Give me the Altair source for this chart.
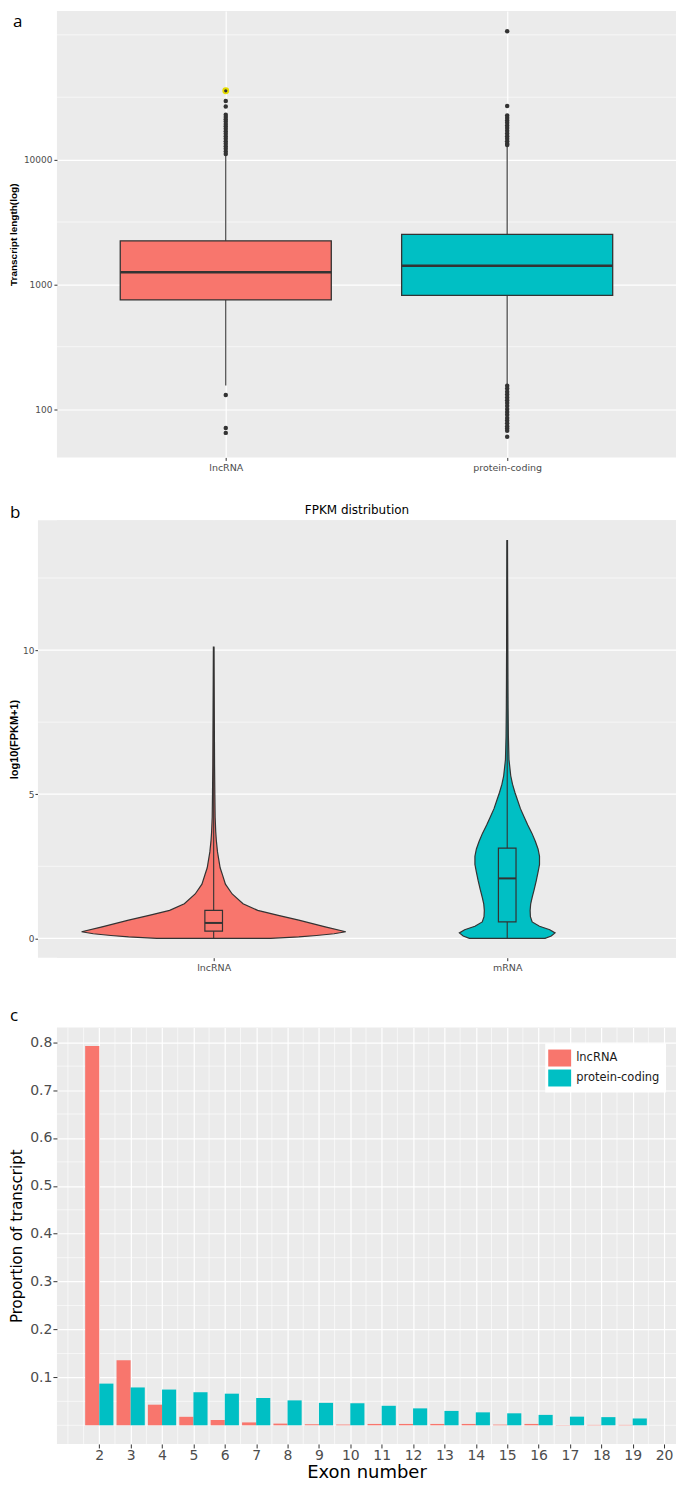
import json
import altair as alt
import pandas as pd

# ---------------- data ----------------
panel_letters = ["a", "b", "c"]
fill_colors = ["#F8766D", "#00BFC4"]

# (a) transcript length box plot, log scale
len_types = ["lncRNA", "protein-coding"]
len_q1 = [751, 815]
len_median = [1250, 1411]
len_q3 = [2235, 2518]
len_whisker_low = [155, 156]
len_whisker_high = [10900, 12900]
len_outliers_lnc = [35600, 29500, 26600, 22900, 22000, 21100, 20200, 19300, 18500, 17700,
                    16900, 16100, 15400, 14700, 14000, 13400, 12800, 12200, 11600, 11100,
                    130, 70.5, 64.5]
len_outliers_pc = [107000, 26900, 22600, 21600, 20600, 19700, 18800, 17900, 17000, 16200,
                   15400, 14700, 14000, 13400, 13100,
                   154, 146, 138, 131, 124, 118, 112, 106, 100, 95, 90, 85, 81, 77, 73, 70, 67, 60]
len_highlight = [35600]
len_ticks = [100, 1000, 10000]
len_minor = [316.2, 3162, 31623, 100000]
len_domain = [41, 155000]

# (b) FPKM violin plot
fpkm_title = "FPKM distribution"
fpkm_types = ["lncRNA", "mRNA"]
lnc_violin_v = [0, 0.05, 0.1, 0.16, 0.23, 0.4, 0.63, 0.8, 0.97, 1.2, 1.54, 1.88, 2.2, 2.45,
                3.0, 3.4, 3.7, 4.2, 5.0, 6.0, 7.0, 8.0, 9.0, 10.1]
lnc_violin_hw = [0.194, 0.29, 0.35, 0.41, 0.45, 0.38, 0.29, 0.22, 0.15, 0.10, 0.063, 0.040,
                 0.030, 0.022, 0.013, 0.009, 0.007, 0.005, 0.004, 0.003, 0.0025, 0.002,
                 0.0015, 0.001]
mrna_violin_v = [0, 0.08, 0.19, 0.3, 0.42, 0.57, 0.75, 0.97, 1.2, 1.42, 1.7, 2.0, 2.3, 2.56,
                 2.85, 3.1, 3.36, 3.65, 3.93, 4.2, 4.5, 4.8, 5.07, 5.35, 5.64, 6.2, 7.0, 8.0,
                 9.0, 10.5, 12.0, 13.8]
mrna_violin_hw = [0.129, 0.15, 0.163, 0.145, 0.11, 0.085, 0.079, 0.078, 0.08, 0.085, 0.092,
                  0.099, 0.105, 0.11, 0.11, 0.105, 0.096, 0.084, 0.07, 0.058, 0.045, 0.035,
                  0.026, 0.018, 0.012, 0.006, 0.004, 0.003, 0.0025, 0.002, 0.0015, 0.001]
fpkm_q1 = [0.25, 0.57]
fpkm_median = [0.535, 2.08]
fpkm_q3 = [0.97, 3.13]
fpkm_min = [0, 0]
fpkm_max = [10.1, 13.8]
fpkm_ticks = [0, 5, 10]
fpkm_minor = [2.5, 7.5, 12.5]
fpkm_domain = [-0.67, 14.5]
fpkm_x_domain = [0.466, 2.575]

# (c) exon number distribution
exon_types = ["lncRNA", "protein-coding"]
exon_numbers = [2, 3, 4, 5, 6, 7, 8, 9, 10, 11, 12, 13, 14, 15, 16, 17, 18, 19]
lnc_prop = [0.792, 0.1356, 0.043, 0.0177, 0.011, 0.006, 0.0035, 0.002, 0.0015, 0.0028,
            0.0028, 0.0028, 0.0028, 0.0014, 0.0028, 0.0008, 0.0008, 0.0008]
pc_prop = [0.087, 0.079, 0.0746, 0.069, 0.066, 0.057, 0.052, 0.0468, 0.046, 0.0407,
           0.0353, 0.030, 0.027, 0.025, 0.0217, 0.018, 0.017, 0.0142]
exon_ticks = [2, 3, 4, 5, 6, 7, 8, 9, 10, 11, 12, 13, 14, 15, 16, 17, 18, 19, 20]
exon_minor_x = [1, 1.5, 2.5, 3.5, 4.5, 5.5, 6.5, 7.5, 8.5, 9.5, 10.5, 11.5, 12.5, 13.5,
                14.5, 15.5, 16.5, 17.5, 18.5, 19.5]
prop_ticks = [0.1, 0.2, 0.3, 0.4, 0.5, 0.6, 0.7, 0.8]
prop_minor = [0, 0.05, 0.15, 0.25, 0.35, 0.45, 0.55, 0.65, 0.75]
exon_x_domain = [0.65, 20.38]
prop_domain = [-0.039, 0.8305]

# ---------------- styles ----------------
FAB = "Liberation Sans"
FD = "DejaVu Sans"
FC = "Open Sans"
DARK = "#333333"
PANEL_BG = "#EBEBEB"
GRID_MAJOR = 1.2
GRID_MINOR = 0.6
W = 620          # plot width shared by the three panels
B_SHIFT = 19     # panel b's grey area starts further left than a and c
HA, HB, HC = 447, 438, 417

# =============== panel a ===============
pos_a = [i + 1 for i in range(len(len_types))]
box_df = pd.DataFrame({"ta": len_types, "pos": pos_a, "q1": len_q1, "med": len_median,
                       "q3": len_q3, "lo": len_whisker_low, "hi": len_whisker_high})
out_rows = []
for t, vals in zip(len_types, [len_outliers_lnc, len_outliers_pc]):
    for v in vals:
        out_rows.append({"ta": t, "pos": pos_a[len_types.index(t)], "v": v})
out_df = pd.DataFrame(out_rows)
hl_df = pd.DataFrame({"ta": [len_types[0]] * len(len_highlight),
                      "pos": [pos_a[0]] * len(len_highlight), "v": len_highlight})

xa_scale = alt.Scale(domain=[0.4, 2.6], nice=False, zero=False)
xa_axis = alt.Axis(values=pos_a, labelExpr=f"{json.dumps(len_types)}[datum.value - 1]",
                   grid=True, gridColor="white", gridWidth=GRID_MAJOR, labelFontSize=9.5,
                   labelFont=FD, tickSize=3, labelPadding=2)
ya_scale = alt.Scale(type="log", domain=len_domain, nice=False)
ya_axis = alt.Axis(values=len_ticks, format="d", grid=True, gridColor="white",
                   gridWidth=GRID_MAJOR, labelFontSize=9, labelFont=FD, titleFontSize=10,
                   titleFont=FAB, titleFontWeight="bold", minExtent=33, maxExtent=33,
                   titlePadding=5, tickSize=3, labelPadding=2)
A_YT = "Transcript length(log)"


def xa(f):
    return alt.X(f, type="quantitative", scale=xa_scale, axis=xa_axis, title=None)


def ya(f):
    return alt.Y(f, type="quantitative", scale=ya_scale, axis=ya_axis, title=A_YT)


a_minor = alt.Chart(pd.DataFrame({"yv": len_minor})).mark_rule(
    color="white", strokeWidth=GRID_MINOR).encode(y=ya("yv"))
a_whisk = alt.Chart(box_df).mark_rule(color=DARK, strokeWidth=1.1).encode(
    x=xa("pos"), y=ya("lo"), y2="hi")
a_box = alt.Chart(box_df).transform_calculate(
    xl="datum.pos - 0.375", xr="datum.pos + 0.375").mark_bar(
    stroke=DARK, strokeWidth=1.3, opacity=1).encode(
    x=xa("xl"), x2="xr", y=ya("q1"), y2="q3",
    color=alt.Color("ta:N", scale=alt.Scale(domain=len_types, range=fill_colors), legend=None))
a_med = alt.Chart(box_df).transform_calculate(
    xl="datum.pos - 0.375", xr="datum.pos + 0.375").mark_rule(
    color=DARK, strokeWidth=2.6).encode(x=xa("xl"), x2="xr", y=ya("med"))
a_out = alt.Chart(out_df).mark_circle(size=20, color=DARK, opacity=1).encode(
    x=xa("pos"), y=ya("v"))
a_hl = alt.Chart(hl_df).mark_circle(size=26, color=DARK, opacity=1, stroke="#E6DC00",
                                    strokeWidth=1.8).encode(x=xa("pos"), y=ya("v"))
a_letter = alt.Chart(pd.DataFrame({"t": [panel_letters[0]]})).mark_text(
    font=FC, fontSize=17, align="left", baseline="alphabetic", color="black").encode(
    x=alt.value(-44), y=alt.value(16), text="t:N")

panel_a = alt.layer(a_minor, a_whisk, a_box, a_med, a_out, a_hl, a_letter).properties(
    width=W, height=HA)

# =============== panel b ===============
pos_b = [i + 1 for i in range(len(fpkm_types))]
vio_rows = []
for t, vs, hws in zip(fpkm_types, [lnc_violin_v, mrna_violin_v], [lnc_violin_hw, mrna_violin_hw]):
    for v, hw in zip(vs, hws):
        vio_rows.append({"tb": t, "pos": pos_b[fpkm_types.index(t)], "v": v, "hw": hw})
vio_df = pd.DataFrame(vio_rows)
fbox_df = pd.DataFrame({"tb": fpkm_types, "pos": pos_b, "q1": fpkm_q1, "med": fpkm_median,
                        "q3": fpkm_q3, "lo": fpkm_min, "hi": fpkm_max})

xb_scale = alt.Scale(domain=fpkm_x_domain, nice=False, zero=False)
xb_axis = alt.Axis(values=pos_b, labelExpr=f"{json.dumps(fpkm_types)}[datum.value - 1]",
                   grid=True, gridColor="white", gridWidth=GRID_MAJOR, labelFontSize=9.5,
                   labelFont=FD, tickSize=3, labelPadding=2, minExtent=17)
yb_scale = alt.Scale(domain=fpkm_domain, nice=False, zero=False)
yb_axis = alt.Axis(values=fpkm_ticks, format="d", grid=False, labelFontSize=9, labelFont=FD,
                   titleFontSize=11, titleFont=FAB, titleFontWeight="bold", minExtent=15,
                   maxExtent=15, titlePadding=3, tickSize=3, labelPadding=1, offset=B_SHIFT)
B_YT = "log10(FPKM+1)"


def xb(f):
    return alt.X(f, type="quantitative", scale=xb_scale, axis=xb_axis, title=None)


def yb(f):
    return alt.Y(f, type="quantitative", scale=yb_scale, axis=yb_axis, title=B_YT)


b_color = alt.Color("tb:N", scale=alt.Scale(domain=fpkm_types, range=fill_colors), legend=None)
b_bg = alt.Chart(pd.DataFrame({"t": [fpkm_title]})).mark_rect(color=PANEL_BG).encode(
    x=alt.value(-B_SHIFT), x2=alt.value(W), y=alt.value(0), y2=alt.value(HB))
b_major = alt.Chart(pd.DataFrame({"yv": fpkm_ticks})).mark_rule(
    color="white", strokeWidth=GRID_MAJOR).encode(
    y=yb("yv"), x=alt.value(-B_SHIFT), x2=alt.value(W))
b_minor = alt.Chart(pd.DataFrame({"yv": fpkm_minor})).mark_rule(
    color="white", strokeWidth=GRID_MINOR).encode(
    y=yb("yv"), x=alt.value(-B_SHIFT), x2=alt.value(W))
b_violin = alt.Chart(vio_df).transform_calculate(
    xl="datum.pos - datum.hw", xr="datum.pos + datum.hw").mark_area(
    orient="horizontal", stroke=DARK, strokeWidth=1.2, opacity=1).encode(
    y=yb("v"), x=xb("xl"), x2="xr", color=b_color)
b_whisk = alt.Chart(fbox_df).mark_rule(color=DARK, strokeWidth=1.1).encode(
    x=xb("pos"), y=yb("lo"), y2="hi")
b_box = alt.Chart(fbox_df).transform_calculate(
    xl="datum.pos - 0.03", xr="datum.pos + 0.03").mark_bar(
    stroke=DARK, strokeWidth=1.2, opacity=1).encode(
    x=xb("xl"), x2="xr", y=yb("q1"), y2="q3", color=b_color)
b_med = alt.Chart(fbox_df).transform_calculate(
    xl="datum.pos - 0.03", xr="datum.pos + 0.03").mark_rule(
    color=DARK, strokeWidth=2).encode(x=xb("xl"), x2="xr", y=yb("med"))
b_letter = alt.Chart(pd.DataFrame({"t": [panel_letters[1]]})).mark_text(
    font=FC, fontSize=17, align="left", baseline="alphabetic", color="black").encode(
    x=alt.value(-47), y=alt.value(-2), text="t:N")
b_title = alt.Chart(pd.DataFrame({"t": [fpkm_title]})).mark_text(
    font=FD, fontSize=12, align="center", baseline="alphabetic", color="black").encode(
    x=alt.value((W - B_SHIFT) / 2), y=alt.value(-6), text="t:N")

panel_b = alt.layer(b_bg, b_major, b_minor, b_violin, b_whisk, b_box, b_med, b_letter,
                    b_title).properties(width=W, height=HB)

# =============== panel c ===============
bar_rows = []
for side, (t, props) in enumerate(zip(exon_types, [lnc_prop, pc_prop])):
    for e, p in zip(exon_numbers, props):
        bar_rows.append({"tc": t, "side": side, "exon": e, "prop": p})
bar_df = pd.DataFrame(bar_rows)

xc_scale = alt.Scale(domain=exon_x_domain, nice=False, zero=False)
xc_axis = alt.Axis(values=exon_ticks, format="d", grid=True, gridColor="white",
                   gridWidth=GRID_MAJOR, labelFontSize=14, labelFont=FD, tickSize=4,
                   labelPadding=1, titleFontSize=18, titleFont=FD, titleFontWeight="normal",
                   titlePadding=1)
yc_scale = alt.Scale(domain=prop_domain, nice=False, zero=False)
yc_axis = alt.Axis(values=prop_ticks, format=".1f", grid=True, gridColor="white",
                   gridWidth=GRID_MAJOR, labelFontSize=14, labelFont=FD, tickSize=4,
                   labelPadding=1, titleFontSize=15, titleFont=FD, titleFontWeight="normal",
                   minExtent=24, maxExtent=24, titlePadding=8)
C_XT = "Exon number"
C_YT = "Proportion of transcript"


def xc(f):
    return alt.X(f, type="quantitative", scale=xc_scale, axis=xc_axis, title=C_XT)


def yc(f):
    return alt.Y(f, type="quantitative", scale=yc_scale, axis=yc_axis, title=C_YT)


c_minor_x = alt.Chart(pd.DataFrame({"xv": exon_minor_x})).mark_rule(
    color="white", strokeWidth=GRID_MINOR).encode(x=xc("xv"))
c_minor_y = alt.Chart(pd.DataFrame({"yv": prop_minor})).mark_rule(
    color="white", strokeWidth=GRID_MINOR).encode(y=yc("yv"))
c_bars = alt.Chart(bar_df).transform_calculate(
    xl="datum.exon - 0.45 + 0.45 * datum.side", xr="datum.exon + 0.45 * datum.side").mark_bar(
    opacity=1).encode(
    x=xc("xl"), x2="xr", y=yc("prop"), y2=alt.datum(0),
    color=alt.Color("tc:N", scale=alt.Scale(domain=exon_types, range=fill_colors),
                    legend=alt.Legend(title=None, orient="none", legendX=489, legendY=16,
                                      symbolType="M-1.35,-1H1.35V1H-1.35Z", symbolSize=289,
                                      symbolStrokeWidth=0, symbolOpacity=1,
                                      labelFont=FD, labelFontSize=11.5, labelColor="#1a1a1a",
                                      fillColor="white", padding=6, rowPadding=3,
                                      labelOffset=8)))
c_letter = alt.Chart(pd.DataFrame({"t": [panel_letters[2]]})).mark_text(
    font=FC, fontSize=17, align="left", baseline="alphabetic", color="black").encode(
    x=alt.value(-47), y=alt.value(-7), text="t:N")

panel_c = alt.layer(c_minor_x, c_minor_y, c_bars, c_letter).properties(width=W, height=HC)

chart = alt.concat(panel_a, panel_b, panel_c, columns=1, spacing=32).resolve_scale(
    x="independent", y="independent", color="independent").properties(
    padding={"left": 1, "top": 2, "right": 0, "bottom": 0}).configure_view(
    fill=PANEL_BG, strokeWidth=0).configure_axis(
    domain=False, tickColor=DARK, tickWidth=1, labelColor="#4D4D4D", titleColor="black")

chart.save("out.html", embed_options={"renderer": "svg", "actions": False})
